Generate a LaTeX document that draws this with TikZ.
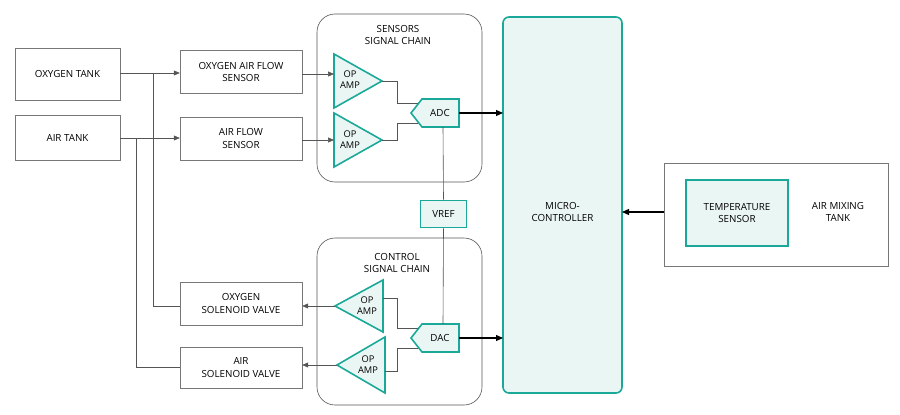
\documentclass[tikz,border=0pt]{standalone}
\usepackage{fontspec}
\setmainfont{Open Sans}
\usetikzlibrary{arrows.meta}
\definecolor{teal1}{HTML}{1AA898}
\definecolor{tfill}{HTML}{EAF6F4}
\definecolor{ln}{HTML}{555555}
\begin{document}
\begin{tikzpicture}[x=1pt,y=-1pt,font=\fontsize{9.8}{12.5}\selectfont,
 box/.style={draw=ln!80,fill=white,align=center,inner sep=0},
 tl/.style={draw=teal1,line width=1.6pt,fill=tfill,line join=miter},
 op/.style={align=center,inner sep=0,font=\fontsize{9.3}{11}\selectfont},
 wire/.style={draw=ln,line width=0.6pt},
 arr/.style={wire,-{Triangle[length=6pt,width=5pt]}},
 barr/.style={draw=black,line width=1.2pt,-{Triangle[length=7pt,width=6pt]}}]
\useasboundingbox (0,0) rectangle (900,415);
% chains
\draw[ln,line width=0.6pt,rounded corners=18pt] (317,14) rectangle (482,182);
\node[align=center] (sl) at (398,35) {SENSORS\\SIGNAL CHAIN};
\draw[ln,line width=0.6pt,rounded corners=18pt] (317,238) rectangle (482,405);
\node[align=center] (cl) at (397,263) {CONTROL\\SIGNAL CHAIN};
% boxes
\node[box,minimum width=105,minimum height=52] (ot) at (67.5,74) {OXYGEN TANK};
\node[box,minimum width=105,minimum height=45] (at) at (67.5,138) {AIR TANK};
\node[box,minimum width=122,minimum height=43] (os) at (241,72) {OXYGEN AIR FLOW\\SENSOR};
\node[box,minimum width=122,minimum height=43] (as) at (241,138.5) {AIR FLOW\\SENSOR};
\node[box,minimum width=122,minimum height=43] (ov) at (241,303.5) {OXYGEN\\SOLENOID VALVE};
\node[box,minimum width=122,minimum height=41] (av) at (241,367.5) {AIR\\SOLENOID VALVE};
\node[box,minimum width=224,minimum height=103] (mt) at (776,214.5) {};
\node[align=center] (mtl) at (838,212) {AIR MIXING\\TANK};
\node[tl,minimum width=102,minimum height=66,align=center,inner sep=0] (ts) at (737,213) {TEMPERATURE\\SENSOR};
\draw[tl,rounded corners=6pt] (503,17) rectangle (622,393);
\node[align=center] (mc) at (562.5,212) {MICRO-\\CONTROLLER};
\coordinate (mcl) at (503,0);
\coordinate (mcr) at (622,0);
% op amps
\draw[tl] (334,54) -- (382,81) -- (334,108) -- cycle;
\node[op] (oa1) at (350,80) {OP\\AMP};
\draw[tl] (334,113) -- (382,140) -- (334,167) -- cycle;
\node[op] (oa2) at (350,140) {OP\\AMP};
\draw[tl] (335,306) -- (383,280) -- (383,332) -- cycle;
\node[op] (oa3) at (367,306) {OP\\AMP};
\draw[tl] (337,365) -- (385,337) -- (385,393) -- cycle;
\node[op] (oa4) at (368,365) {OP\\AMP};
% ADC DAC
\draw[tl] (411,113) -- (422,99) -- (459,99) -- (459,127) -- (422,127) -- cycle;
\node (adc) at (440,113) {ADC};
\draw[tl] (411,338) -- (422,324) -- (459,324) -- (459,352) -- (422,352) -- cycle;
\node (dac) at (440,338) {DAC};
\node[tl,minimum width=46,minimum height=27,inner sep=0] (vref) at (443.5,214) {VREF};
% wires
\draw[wire] (443,127) -- (vref.north);
\draw[wire] (vref.south) -- (443,324);
\draw[wire] (382,81) -- (397,81) -- (397,103) -- (418,103);
\draw[wire] (382,140) -- (397,140) -- (397,123) -- (418,123);
\draw[wire] (383,298) -- (397,298) -- (397,328) -- (418,328);
\draw[wire] (385,371) -- (397,371) -- (397,348) -- (418,348);
\draw[arr] (ot.east |- 0,73) -- (os.west |- 0,73);
\draw[arr] (at.east |- 0,138) -- (as.west |- 0,138);
\draw[arr] (os.east |- 0,74) -- (334,74);
\draw[arr] (as.east |- 0,140) -- (334,140);
\draw[arr] (335,306) -- (ov.east |- 0,306);
\draw[arr] (337,365) -- (av.east |- 0,365);
\draw[wire] (153,73) -- (153,306) -- (ov.west |- 0,306);
\draw[wire] (136,138) -- (136,367) -- (av.west |- 0,367);
\draw[barr] (459,113) -- (mcl |- 0,113);
\draw[barr] (459,338) -- (mcl |- 0,338);
\draw[barr] (mt.west |- 0,212) -- (mcr |- 0,212);
\end{tikzpicture}
\end{document}
